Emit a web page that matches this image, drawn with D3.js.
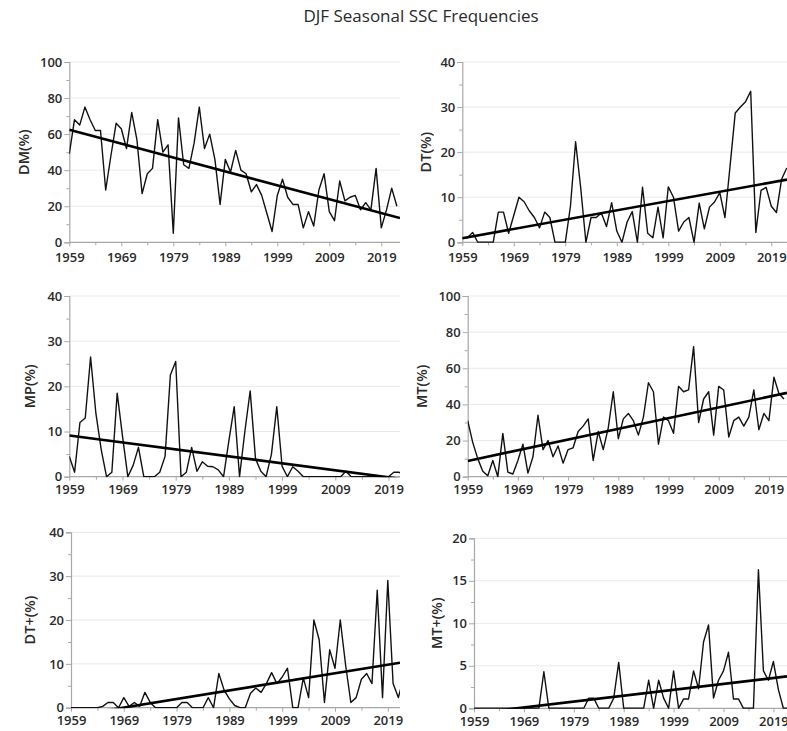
<!DOCTYPE html>
<html>
<head>
<meta charset="utf-8">
<script src="https://cdn.jsdelivr.net/npm/d3@7"></script>
<style>
  body { margin: 0; background: #fff; }
  svg text { font-family: "Open Sans", "Noto Sans", sans-serif; fill: #2a2a2a; }
</style>
</head>
<body>
<svg id="chart" width="787" height="731"></svg>
<script>
// DJF seasonal frequencies, one value per winter 1959..2022
const firstYear = 1959;

const dmValues = [49, 68, 65, 75, 68, 62, 62, 29, 48, 66, 63, 52, 72, 57, 27, 38, 41, 68, 50, 54,
  5, 69, 43, 41, 55, 75, 52, 60, 46, 21, 46, 39, 51, 40, 38, 28, 32, 26, 16, 6,
  26, 35, 25, 21, 21, 8, 17, 9, 29, 38, 17, 12, 34, 23, 25, 26, 18, 22, 18, 41,
  8, 18, 30, 20];

const dtValues = [1, 1, 2.2, 0, 0, 0, 0, 6.7, 6.7, 2, 6, 10, 9, 7, 5.5, 3.2, 6.7, 5.5, 0, 0,
  0, 8, 22.3, 12, 0, 5.5, 5.5, 6.5, 3.5, 8.8, 2.5, 0, 4.5, 6.8, 0, 12.2, 2, 1, 7.8, 1,
  12.3, 10, 2.5, 4.5, 5.5, 0, 8.7, 3, 7.8, 9, 11, 5.5, 17, 28.7, 30, 31.2, 33.5, 2.2, 11.5, 12.2,
  8, 6.6, 14, 16.5];

const mpValues = [4.5, 1, 12, 13, 26.5, 14, 6, 0, 1, 18.5, 9, 0, 2.5, 6.5, 0, 0, 0, 1, 4.5, 22.5,
  25.5, 0, 1, 6.5, 1.2, 3.3, 2.3, 2.2, 1.5, 0, 8, 15.5, 0, 10, 19, 4, 1.2, 0, 5, 15.5,
  2.3, 0, 2.2, 1.2, 0, 0, 0, 0, 0, 0, 0, 0, 1.2, 0, 0, 0, 0, 0, 0, 0,
  0, 1, 1, 0];

const mtValues = [31, 19, 10, 3, 0.5, 9, 0, 24, 2.5, 1.5, 9, 18, 2, 11, 34, 15, 20, 11, 17, 7.5,
  15, 16, 25, 28, 32, 9, 25, 15, 27, 47, 21, 32, 35, 31, 23, 33, 52, 47, 18, 33,
  31, 24, 50, 47, 48, 72, 30, 43, 47, 23, 50, 48, 22, 31, 33, 28, 33, 48, 26, 35,
  31, 55, 46, 43];

const dtPlusValues = [0, 0, 0, 0, 0, 0, 0.3, 1.2, 1.2, 0, 2.3, 0.3, 1.2, 0.3, 3.5, 1.2, 0, 0, 0, 0,
  0, 1.2, 1.2, 0, 0, 0, 2.3, 0, 7.8, 4, 2, 0.5, 0, 0, 3.3, 4.5, 3.5, 5.5, 8, 5.5,
  7, 9, 0, 0, 6.8, 2.3, 20, 15.5, 1.2, 13.2, 9, 20, 9.8, 1.2, 2.3, 6.5, 7.8, 5.5, 26.8, 2.3,
  29, 5.5, 2.3, 7];

const mtPlusValues = [0, 0, 0, 0, 0, 0, 0, 0, 0, 0, 0, 0, 0, 0, 4.3, 0, 0, 0, 0, 0,
  0, 0, 0, 1.2, 1.2, 0, 0, 0, 1.2, 5.4, 0, 0, 0, 0, 0, 3.3, 0, 3.3, 1.2, 0,
  4.4, 0, 1.1, 1.1, 4.4, 2.3, 7.8, 9.8, 1.2, 3.3, 4.4, 6.6, 1.1, 1.1, 0, 0, 0, 16.3, 4.4, 3.3,
  5.5, 2.2, 0, 0];

const xTickYears = [1959, 1969, 1979, 1989, 1999, 2009, 2019];
const xMinorYears = [1964, 1974, 1984, 1994, 2004, 2014];

// layout of the six panels (screen positions only)
const panels = [
  { name: "DM(%)",  values: dmValues,     yMax: 100, yStep: 20, x0: 69.3,  k: 5.2,  yTop: 62,    yBottom: 242.3, edge: 400, labelX: 29,  gap: 10.5 },
  { name: "DT(%)",  values: dtValues,     yMax: 40,  yStep: 10, x0: 462.3, k: 5.15, yTop: 62,    yBottom: 242.3, edge: 787, labelX: 431, gap: 10.5 },
  { name: "MP(%)",  values: mpValues,     yMax: 40,  yStep: 10, x0: 69.3,  k: 5.32, yTop: 296,   yBottom: 476.7, edge: 400, labelX: 35,  gap: 8 },
  { name: "MT(%)",  values: mtValues,     yMax: 100, yStep: 20, x0: 467.7, k: 5.02, yTop: 296,   yBottom: 476.7, edge: 787, labelX: 427, gap: 8 },
  { name: "DT+(%)", values: dtPlusValues, yMax: 40,  yStep: 10, x0: 71,    k: 5.28, yTop: 532.3, yBottom: 707.7, edge: 400, labelX: 35,  gap: 8 },
  { name: "MT+(%)", values: mtPlusValues, yMax: 20,  yStep: 5,  x0: 474,   k: 4.99, yTop: 538.3, yBottom: 708.3, edge: 787, labelX: 442, gap: 8 }
];

let svg = d3.select("#chart");

svg.append("text").
attr("x", 421).
attr("y", 22).
attr("text-anchor", "middle").
style("font-size", "17px").
text("DJF Seasonal SSC Frequencies");

panels.forEach((p, idx) => drawPanel(p, idx));

function linearFit(xs, ys) {
  let mx = d3.mean(xs), my = d3.mean(ys);
  let num = d3.sum(xs, (x, i) => (x - mx) * (ys[i] - my));
  let den = d3.sum(xs, x => (x - mx) * (x - mx));
  let slope = num / den;
  return { slope: slope, intercept: my - slope * mx };
}

function drawPanel(p, idx) {
  let years = p.values.map((v, i) => firstYear + i);
  let lastYear = firstYear + (p.edge - p.x0) / p.k;

  let x = d3.scaleLinear().domain([firstYear, lastYear]).range([p.x0, p.edge]);
  let y = d3.scaleLinear().domain([0, p.yMax]).range([p.yBottom, p.yTop]);

  let g = svg.append("g");

  svg.append("clipPath").
  attr("id", "clip" + idx).
  append("rect").
  attr("x", p.x0).
  attr("y", p.yTop - 2).
  attr("width", p.edge - p.x0).
  attr("height", p.yBottom - p.yTop + 2.5);

  // gridlines
  let majors = d3.range(p.yStep, p.yMax + 0.001, p.yStep);
  g.selectAll("line.grid").
  data(majors).
  enter().
  append("line").
  attr("class", "grid").
  attr("x1", p.x0).
  attr("x2", p.edge).
  attr("y1", d => y(d)).
  attr("y2", d => y(d)).
  attr("stroke", "#e9e9e9").
  attr("stroke-width", 1);

  // y axis
  let yAxis = d3.axisLeft(y).
  tickValues(d3.range(0, p.yMax + 0.001, p.yStep)).
  tickSize(5).
  tickPadding(2);
  let ya = g.append("g").
  attr("transform", `translate(${p.x0},0)`).
  call(yAxis);

  let yMinor = d3.axisLeft(y).
  tickValues(d3.range(p.yStep / 2, p.yMax, p.yStep)).
  tickSize(3).
  tickFormat("");
  let ym = g.append("g").
  attr("transform", `translate(${p.x0},0)`).
  call(yMinor);
  ym.select(".domain").remove();

  // x axis
  let xAxis = d3.axisBottom(x).
  tickValues(xTickYears).
  tickFormat(d3.format("d")).
  tickSize(4).
  tickPadding(p.gap - 4);
  let xa = g.append("g").
  attr("transform", `translate(0,${p.yBottom})`).
  call(xAxis);

  let xMinor = d3.axisBottom(x).
  tickValues(xMinorYears).
  tickSize(3).
  tickFormat("");
  let xm = g.append("g").
  attr("transform", `translate(0,${p.yBottom})`).
  call(xMinor);
  xm.select(".domain").remove();

  [ya, ym, xa, xm].forEach(a => {
    a.selectAll(".domain").attr("stroke", "#a8a8a8").attr("stroke-width", 1.2);
    a.selectAll(".tick line").attr("stroke", "#a8a8a8");
    a.selectAll("text").
    style("font-size", "13px").
    style("font-weight", "600").
    style("font-family", "'Open Sans', sans-serif").
    attr("fill", "#2a2a2a");
  });
  xa.select(".domain").attr("d", `M${p.x0},0H${p.edge}`);

  // axis title
  g.append("text").
  attr("transform", `translate(${p.labelX},${(p.yTop + p.yBottom) / 2}) rotate(-90)`).
  attr("text-anchor", "middle").
  style("font-size", "14.5px").
  style("font-weight", "600").
  text(p.name);

  let plot = g.append("g").attr("clip-path", `url(#clip${idx})`);

  let line = d3.line().
  x((d, i) => x(years[i])).
  y(d => y(d));

  plot.append("path").
  datum(p.values).
  attr("d", line).
  attr("fill", "none").
  attr("stroke", "#111").
  attr("stroke-width", 1.4).
  attr("stroke-linejoin", "round");

  // least-squares trend
  let fit = linearFit(years, p.values);
  let ends = [firstYear, lastYear];
  plot.append("line").
  attr("x1", x(ends[0])).
  attr("y1", y(fit.intercept + fit.slope * ends[0])).
  attr("x2", x(ends[1])).
  attr("y2", y(fit.intercept + fit.slope * ends[1])).
  attr("stroke", "#000").
  attr("stroke-width", 2.6);
}
</script>
</body>
</html>
